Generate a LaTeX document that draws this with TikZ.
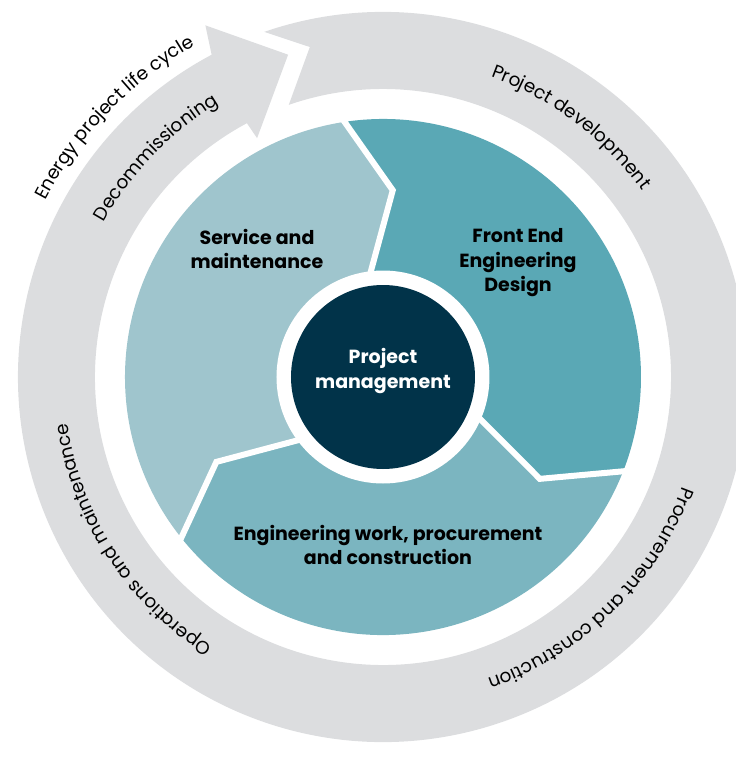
\documentclass[tikz,border=0pt]{standalone}
\usepackage{fontspec}
\setmainfont{Poppins}
\usetikzlibrary{decorations.text}
\definecolor{ringgray}{HTML}{DCDDDF}
\definecolor{servcol}{HTML}{9FC5CD}
\definecolor{feedcol}{HTML}{5AA8B5}
\definecolor{epccol}{HTML}{7BB5C0}
\definecolor{pmcol}{HTML}{013349}
\newcommand\arcfont{\fontsize{18.5}{22}\selectfont}
\begin{document}
\begin{tikzpicture}[x=1pt,y=1pt,
  phase/.style={font=\bfseries\fontsize{19}{24.5}\selectfont,align=center,text=black,inner sep=0pt},
  arctext/.style={decorate,decoration={text along path,text align=center,text={|\arcfont|#1}}},
  gap/.style={draw=white,line width=6pt,line join=miter}]
\useasboundingbox (-383,-387) rectangle (353,377);
\fill[ringgray] (109:365) arc[start angle=109,end angle=-242,radius=365] -- (-243.2:394) -- (-253.6:336)
  -- (-242.2:270) -- (-241.8:288) arc[start angle=-241.8,end angle=109.1,radius=288] -- (102.5:338) -- cycle;
\foreach \a/\c in {0/feedcol,-120/epccol,120/servcol}
  \fill[\c] (0,0) -- ({\a+98}:106) -- ({\a+87}:187) -- ({\a+99}:258) arc[start angle=\a+99,end angle=\a-21,radius=258]
    -- ({\a-33}:187) -- ({\a-22}:106) -- cycle;
\foreach \a in {0,-120,120}
  \draw[gap] ({\a+98}:100) -- ({\a+87}:187) -- ({\a+99}:262);
\fill[white] (0,0) circle[radius=106.5];
\fill[pmcol] (0,0) circle[radius=92];
\node[phase,text=white] (pm) at (0,6) {Project\\management};
\node[phase] (serv) at (-126,128) {Service and\\maintenance};
\node[phase] (feed) at (135,114) {Front End\\Engineering\\Design};
\node[phase] (epc) at (5,-168) {Engineering work, procurement\\and construction};
\path[arctext={Project development}] (93:319) arc[start angle=93,end angle=13,radius=319];
\path[arctext={Procurement and construction}] (-3:319) arc[start angle=-3,end angle=-88,radius=319];
\path[arctext={Operations and maintenance}] (-105:319) arc[start angle=-105,end angle=-189,radius=319];
\path[arctext={Decommissioning}] (178:319) arc[start angle=178,end angle=94,radius=319];
\path[arctext={Energy project life cycle}] (178:381) arc[start angle=178,end angle=94,radius=381];
\end{tikzpicture}
\end{document}
